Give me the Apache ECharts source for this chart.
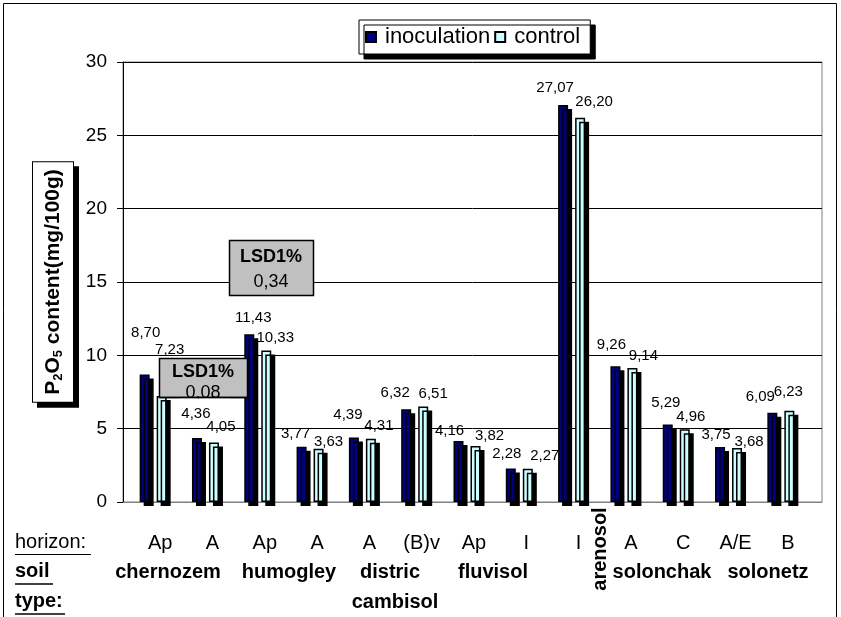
<!DOCTYPE html>
<html>
<head>
<meta charset="utf-8">
<script src="https://cdn.jsdelivr.net/npm/echarts@6/dist/echarts.min.js"></script>
<style>
html, body { margin: 0; padding: 0; background: #fff; }
#chart { width: 841px; height: 617px; }
</style>
</head>
<body>
<div id="chart"></div>
<script>
// horizon of each sample (x axis categories)
var horizons = ['Ap', 'A', 'Ap', 'A', 'A', '(B)v', 'Ap', 'I', 'I', 'A', 'C', 'A/E', 'B'];
// P2O5 content, mg/100g
var inoculation = [8.70, 4.36, 11.43, 3.77, 4.39, 6.32, 4.16, 2.28, 27.07, 9.26, 5.29, 3.75, 6.09];
var control = [7.23, 4.05, 10.33, 3.63, 4.31, 6.51, 3.82, 2.27, 26.20, 9.14, 4.96, 3.68, 6.23];
var yMin = 0, yMax = 30, yStep = 5;
var soilTypes = ['chernozem', 'humogley', 'distric', 'cambisol', 'fluvisol', 'arenosol', 'solonchak', 'solonetz'];
var lsdLabels = ['LSD1%', 'LSD1%'];
var lsdValues = ['0,34', '0,08'];

// layout only: label nudges (x, y) as placed in the original sheet
var inocNudge = [[1, -29], [-1, -12], [4, -4], [-6, 0], [-6, -10], [-11, -4], [-9, 2], [-4, -2], [-8, -5], [-4, -9], [-2, -9], [-4, 0], [-12, -3]];
var ctrlNudge = [[8, -34], [7, -3], [9, 0], [10, 6], [8, 0], [10, 0], [14, 2], [17, 0], [14, -3], [11, 0], [6, 0], [12, 6], [-1, -6]];
// layout only: soil type text anchors
var soilPos = [[168, 572], [289, 572], [390, 572], [395, 602], [493, 572], [600, 549], [662, 572], [768, 572]];

var FONT = 'Liberation Sans, Arial, sans-serif';

function fmt(p) {
    return p.value.toFixed(2).replace('.', ',');
}

var chart = echarts.init(document.getElementById('chart'));

var graphics = [
    // outer frame
    { type: 'rect', silent: true, z: 0, shape: { x: 3.5, y: 3.5, width: 833, height: 640 },
      style: { fill: 'none', stroke: '#000', lineWidth: 1 } },
    // bottom row captions
    { type: 'text', left: 15, top: 532, style: { text: 'horizon:', font: '20px ' + FONT, fill: '#000' } },
    { type: 'line', shape: { x1: 15, y1: 554.5, x2: 91, y2: 554.5 }, style: { stroke: '#000', lineWidth: 1 } },
    { type: 'text', left: 15, top: 561, style: { text: 'soil', font: 'bold 20px ' + FONT, fill: '#000' } },
    { type: 'line', shape: { x1: 15, y1: 584, x2: 53, y2: 584 }, style: { stroke: '#000', lineWidth: 1.5 } },
    { type: 'text', left: 15, top: 591, style: { text: 'type:', font: 'bold 20px ' + FONT, fill: '#000' } },
    { type: 'line', shape: { x1: 15, y1: 614, x2: 65, y2: 614 }, style: { stroke: '#000', lineWidth: 1.5 } }
];

soilTypes.forEach(function(name, i) {
    var vertical = name === 'arenosol';
    graphics.push({
        type: 'text',
        x: soilPos[i][0],
        y: soilPos[i][1],
        rotation: vertical ? Math.PI / 2 : 0,
        style: {
            text: name,
            font: 'bold 20px ' + FONT,
            fill: '#000',
            align: 'center',
            verticalAlign: 'middle'
        }
    });
});

// LSD boxes
var lsdBoxes = [
    { x: 229, y: 240, w: 84, h: 55 },
    { x: 159, y: 358, w: 88, h: 39 }
];
lsdBoxes.forEach(function(b, i) {
    var cx = b.x + b.w / 2;
    graphics.push({
        type: 'rect', z: 100, shape: { x: b.x + 0.5, y: b.y + 0.5, width: b.w, height: b.h },
        style: { fill: '#c0c0c0', stroke: '#000', lineWidth: 1.5 }
    });
    graphics.push({
        type: 'text', z: 101, x: cx, y: b.y + (i === 0 ? 17 : 14),
        style: { text: lsdLabels[i], font: 'bold 18px ' + FONT, fill: '#000', align: 'center', verticalAlign: 'middle' }
    });
    graphics.push({
        type: 'text', z: 101, x: cx, y: b.y + (i === 0 ? 42 : 35),
        style: { text: lsdValues[i], font: '18px ' + FONT, fill: '#000', align: 'center', verticalAlign: 'middle' }
    });
});
// the lower box cuts its value text at the frame
graphics.push({ type: 'rect', z: 102, shape: { x: 180, y: 398.5, width: 50, height: 5 }, style: { fill: '#fff' } });
graphics.push({ type: 'line', z: 103, shape: { x1: 159.5, y1: 397.5, x2: 247.5, y2: 397.5 }, style: { stroke: '#000', lineWidth: 1.5 } });

var option = {
    animation: false,
    backgroundColor: '#fff',
    textStyle: { fontFamily: FONT, color: '#000' },
    legend: {
        data: ['inoculation', 'control'],
        left: 359,
        top: 20,
        icon: 'rect',
        itemWidth: 10,
        itemHeight: 10,
        itemGap: 4,
        padding: [6, 10, 6, 6],
        backgroundColor: '#fff',
        borderColor: '#000',
        borderWidth: 1,
        shadowColor: '#000',
        shadowBlur: 0,
        shadowOffsetX: 5,
        shadowOffsetY: 5,
        itemStyle: { shadowColor: 'transparent', shadowOffsetX: 0, shadowOffsetY: 0 },
        textStyle: { fontSize: 22, color: '#000', fontFamily: FONT, padding: [0, 0, 0, 4] }
    },
    grid: [
        { left: 127, top: 62, width: 680, height: 440 },
        { left: 123, top: 62, width: 699, height: 440, show: true, borderColor: '#808080', borderWidth: 1, backgroundColor: 'transparent' }
    ],
    xAxis: [
        {
            type: 'category',
            gridIndex: 0,
            data: horizons,
            axisLine: { show: false },
            axisTick: { show: false },
            axisLabel: { interval: 0, margin: 31, fontSize: 20, color: '#000', fontFamily: FONT, padding: [0, 0, 0, 14] }
        },
        {
            type: 'value',
            gridIndex: 1,
            min: 0,
            max: 1,
            axisLine: { show: true, lineStyle: { color: '#808080', width: 1 } },
            axisTick: { show: false },
            axisLabel: { show: false },
            splitLine: { show: false }
        }
    ],
    yAxis: [
        { type: 'value', gridIndex: 0, min: yMin, max: yMax, show: false },
        {
            type: 'value',
            gridIndex: 1,
            min: yMin,
            max: yMax,
            interval: yStep,
            axisLine: { show: true, lineStyle: { color: '#000', width: 1 } },
            axisTick: { show: true, length: 6, lineStyle: { color: '#000' } },
            axisLabel: { fontSize: 19, margin: 16, color: '#000', fontFamily: FONT },
            splitLine: { show: true, lineStyle: { color: '#000', width: 1 } },
            name: '{b|P}{s|2}{b|O}{s|5}{b| content(mg/100g)}',
            nameLocation: 'middle',
            nameRotate: 90,
            nameGap: 50,
            nameTextStyle: {
                backgroundColor: '#fff',
                borderColor: '#000',
                borderWidth: 1,
                padding: [8, 7, 8, 7],
                shadowColor: '#000',
                shadowBlur: 0,
                shadowOffsetX: 5,
                shadowOffsetY: 5,
                rich: {
                    b: { fontSize: 21, fontWeight: 'bold', fontFamily: FONT, color: '#000', lineHeight: 24 },
                    s: { fontSize: 13, fontWeight: 'bold', fontFamily: FONT, color: '#000', lineHeight: 14, verticalAlign: 'bottom' }
                }
            }
        }
    ],
    series: [
        {
            name: 'inoculation',
            type: 'bar',
            xAxisIndex: 0,
            yAxisIndex: 0,
            barWidth: 10,
            barGap: '70%',
            data: inoculation.map(function(v, i) {
                return { value: v, label: { offset: inocNudge[i] } };
            }),
            itemStyle: {
                color: '#000080',
                borderColor: '#000',
                borderWidth: 1.5,
                shadowColor: '#000',
                shadowBlur: 0,
                shadowOffsetX: 4,
                shadowOffsetY: 4
            },
            label: { show: true, position: 'top', distance: 5, fontSize: 15, color: '#000', fontFamily: FONT, formatter: fmt }
        },
        {
            name: 'control',
            type: 'bar',
            xAxisIndex: 0,
            yAxisIndex: 0,
            barWidth: 10,
            data: control.map(function(v, i) {
                return { value: v, label: { offset: ctrlNudge[i] } };
            }),
            itemStyle: {
                color: '#ccffff',
                borderColor: '#000',
                borderWidth: 1.5,
                shadowColor: '#000',
                shadowBlur: 0,
                shadowOffsetX: 4,
                shadowOffsetY: 4
            },
            label: { show: true, position: 'top', distance: 5, fontSize: 15, color: '#000', fontFamily: FONT, formatter: fmt }
        }
    ],
    graphic: graphics
};

chart.setOption(option);
</script>
</body>
</html>
